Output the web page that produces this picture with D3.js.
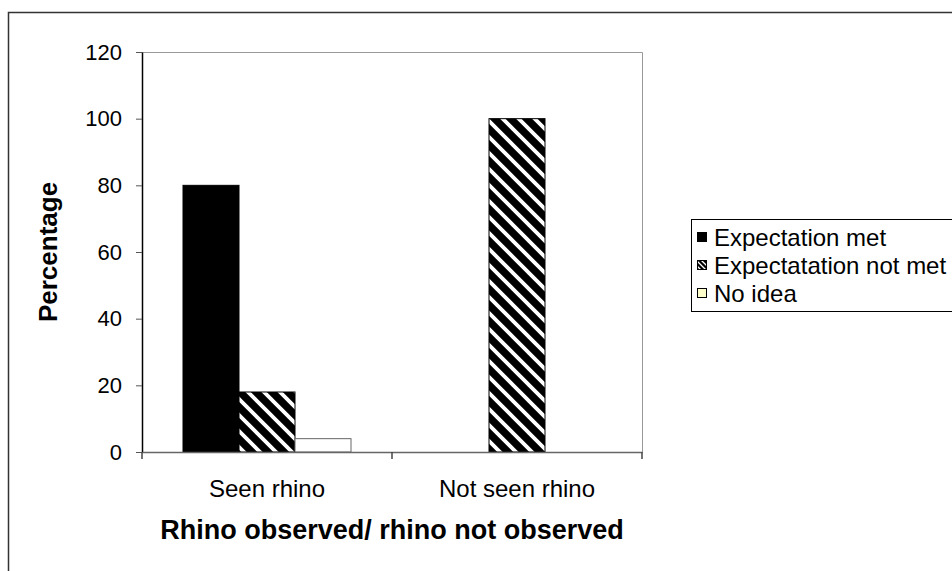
<!DOCTYPE html>
<html>
<head>
<meta charset="utf-8">
<script src="https://cdn.jsdelivr.net/npm/d3@7"></script>
<style>
  html, body { margin: 0; padding: 0; background: #fff; }
  svg { display: block; font-family: "Liberation Sans", Arial, sans-serif; }
</style>
</head>
<body>
<svg id="chart" width="952" height="571"></svg>
<script>
// Survey categories and the three response series (percentages)
const categories = ["Seen rhino", "Not seen rhino"];
const seriesNames = ["Expectation met", "Expectatation not met", "No idea"];
const expectationMet = [80, 0];
const expectationNotMet = [18, 100];
const noIdea = [4, 0];
const yTickValues = [0, 20, 40, 60, 80, 100, 120];

const seriesValues = [expectationMet, expectationNotMet, noIdea];

const svg = d3.select("#chart");
const W = 952, H = 571;
const plot = { left: 142, right: 642, top: 52, bottom: 452 };

// Hatch patterns: white diagonal stripes on black
const defs = svg.append("defs");
function hatch(id, size, sw) {
  const p = defs.append("pattern")
    .attr("id", id)
    .attr("patternUnits", "userSpaceOnUse")
    .attr("width", size).attr("height", size);
  p.append("rect").attr("width", size).attr("height", size).attr("fill", "#000");
  p.append("path")
    .attr("d", `M${-size / 4},${-size / 4} L${size * 1.25},${size * 1.25} M${-size / 4},${size * 0.75} L${size / 4},${size * 1.25} M${size * 0.75},${-size / 4} L${size * 1.25},${size / 4}`)
    .attr("stroke", "#fff").attr("stroke-width", sw);
}
hatch("hatch", 16, 3.8);
hatch("hatchSmall", 5, 1.3);

const fills = ["#000", "url(#hatch)", "#fff"];
const strokes = ["#000", "#000", "#666"];
const legendFills = ["#000", "url(#hatchSmall)", "#ffffcc"];

// Outer chart frame (runs off the right and bottom edges)
svg.append("rect")
  .attr("x", 8.5).attr("y", 12.5)
  .attr("width", W + 20).attr("height", H + 20)
  .attr("fill", "none").attr("stroke", "#333").attr("stroke-width", 1.5);

const x0 = d3.scaleBand().domain(categories).range([plot.left, plot.right]).padding(0);
const x1 = d3.scaleBand().domain(seriesNames).range([41, 209]).padding(0);
const y = d3.scaleLinear().domain([0, 120]).range([plot.bottom, plot.top]);

// Plot area border (top and right)
svg.append("path")
  .attr("d", `M${plot.left},${plot.top + 0.5} H${plot.right + 0.5} V${plot.bottom}`)
  .attr("fill", "none").attr("stroke", "#999").attr("stroke-width", 1);

// Bars (zero values are not drawn)
const barData = [];
categories.forEach((c, ci) => {
  seriesNames.forEach((s, si) => {
    const v = seriesValues[si][ci];
    if (v > 0) barData.push({ c, s, si, v });
  });
});
svg.append("g").selectAll("rect")
  .data(barData)
  .join("rect")
  .attr("x", d => x0(d.c) + x1(d.s))
  .attr("y", d => y(d.v))
  .attr("width", x1.bandwidth())
  .attr("height", d => y(0) - y(d.v))
  .attr("fill", d => fills[d.si])
  .attr("stroke", d => strokes[d.si])
  .attr("stroke-width", 1);

// Y axis
const yAxis = svg.append("g")
  .attr("transform", `translate(${plot.left},0)`)
  .call(d3.axisLeft(y).tickValues(yTickValues).tickSize(6).tickPadding(14).tickSizeOuter(0));
yAxis.select(".domain").attr("stroke", "#000").attr("stroke-width", 1.5);
yAxis.selectAll(".tick line").attr("stroke", "#555");
yAxis.selectAll(".tick text").attr("font-size", 22).attr("fill", "#000")
  .attr("font-family", "Liberation Sans, Arial, sans-serif");

// X axis
const xAxis = svg.append("g")
  .attr("transform", `translate(0,${plot.bottom})`)
  .call(d3.axisBottom(x0).tickSize(0).tickPadding(28));
xAxis.select(".domain").attr("stroke", "#666").attr("stroke-width", 1.5);
xAxis.selectAll(".tick text").attr("font-size", 24).attr("fill", "#000")
  .attr("font-family", "Liberation Sans, Arial, sans-serif");
// category separator ticks
const sepTicks = [plot.left, x0(categories[1]), plot.right];
svg.append("g").selectAll("line")
  .data(sepTicks)
  .join("line")
  .attr("x1", d => d).attr("x2", d => d)
  .attr("y1", plot.bottom).attr("y2", plot.bottom + 7)
  .attr("stroke", "#444").attr("stroke-width", 1.5);

// Axis titles
svg.append("text")
  .attr("x", (plot.left + plot.right) / 2).attr("y", 539)
  .attr("text-anchor", "middle")
  .attr("font-size", 27).attr("font-weight", "bold")
  .text("Rhino observed/ rhino not observed");

svg.append("text")
  .attr("transform", `translate(57,${(plot.top + plot.bottom) / 2}) rotate(-90)`)
  .attr("text-anchor", "middle")
  .attr("font-size", 26).attr("font-weight", "bold")
  .text("Percentage");

// Legend
const legend = svg.append("g").attr("transform", "translate(691,219)");
legend.append("rect")
  .attr("x", 0.5).attr("y", 0.5).attr("width", 300).attr("height", 92)
  .attr("fill", "#fff").attr("stroke", "#000").attr("stroke-width", 1);
const items = legend.selectAll("g.item")
  .data(seriesNames)
  .join("g")
  .attr("class", "item")
  .attr("transform", (d, i) => `translate(0,${18 + i * 28})`);
items.append("rect")
  .attr("x", 6.5).attr("y", -4.5).attr("width", 9).attr("height", 9)
  .attr("fill", (d, i) => legendFills[i])
  .attr("stroke", "#000").attr("stroke-width", 1);
items.append("text")
  .attr("x", 23).attr("y", 8.5)
  .attr("font-size", 24)
  .text(d => d);
</script>
</body>
</html>
